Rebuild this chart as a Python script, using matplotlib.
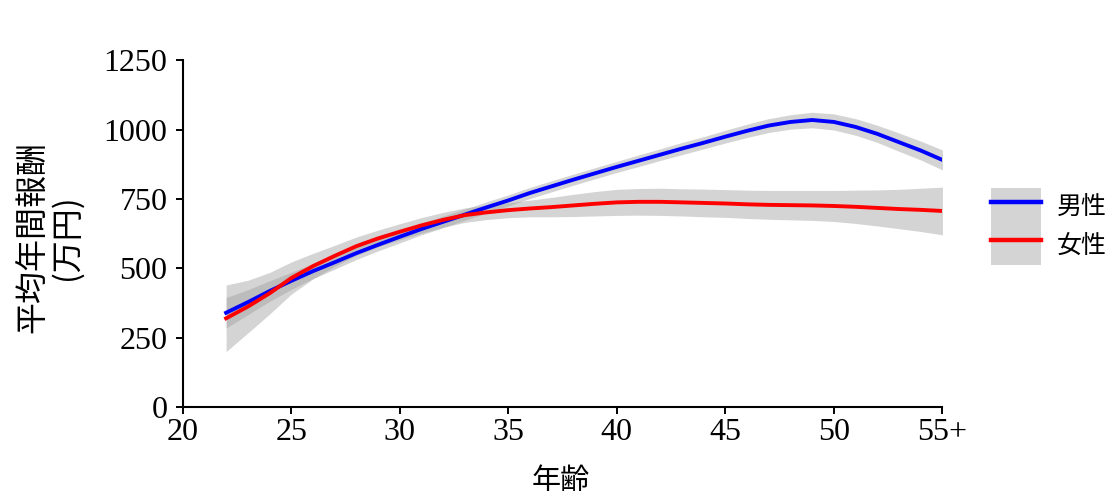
#!/usr/bin/env python3

import matplotlib
matplotlib.use("Agg")
import matplotlib.pyplot as plt
from matplotlib.lines import Line2D
from matplotlib.patches import Patch
from matplotlib.legend_handler import HandlerTuple

# ages
ages = [22, 23, 24, 25, 26, 27, 28, 29, 30, 31, 32, 33, 34, 35, 36, 37, 38,
        39, 40, 41, 42, 43, 44, 45, 46, 47, 48, 49, 50, 51, 52, 53, 54, 55]

male = [340, 378, 418, 455, 490, 522, 555, 585, 614, 642, 668, 694, 720, 745,
        772, 796, 820, 843, 866, 888, 910, 932, 953, 975, 996, 1015, 1028,
        1035, 1028, 1010, 985, 955, 925, 891]
male_se = [55, 45, 37, 31, 27, 25, 23, 22, 22, 21, 21, 20, 20, 20, 20, 20, 20,
           20, 20, 21, 21, 22, 22, 23, 24, 25, 26, 28, 29, 30, 31, 33, 34, 36]

female = [320, 362, 410, 465, 508, 545, 580, 608, 632, 655, 675, 692, 702, 710,
          716, 721, 727, 733, 738, 740, 740, 738, 736, 734, 731, 729, 728, 727,
          725, 722, 718, 714, 711, 707]
female_se = [120, 95, 75, 58, 46, 38, 33, 30, 29, 28, 27, 26, 26, 27, 30, 35,
             40, 44, 47, 48, 49, 49, 50, 50, 51, 52, 53, 54, 56, 60, 65, 71,
             78, 86]

x_ticks = [20, 25, 30, 35, 40, 45, 50, 55]
x_tick_labels = ["20", "25", "30", "35", "40", "45", "50", "55+"]
y_ticks = [0, 250, 500, 750, 1000, 1250]

series_labels = ["男性", "女性"]
series_colors = ["#0000ff", "#ff0000"]

CJK = ["Noto Sans CJK JP", "DejaVu Sans"]
SERIF = "Liberation Serif"
BAND = "#a0a0a0"

fig = plt.figure(figsize=(11.14, 4.97), dpi=100)
ax = fig.add_axes([0.164, 0.181, 0.682, 0.6975])

for mean, se in [(male, male_se), (female, female_se)]:
    lo = [m - s for m, s in zip(mean, se)]
    hi = [m + s for m, s in zip(mean, se)]
    ax.fill_between(ages, lo, hi, color=BAND, alpha=0.45, linewidth=0)

ax.plot(ages, male, color=series_colors[0], linewidth=2.8)
ax.plot(ages, female, color=series_colors[1], linewidth=2.8)

ax.set_xlim(20, 55)
ax.set_ylim(0, 1250)
ax.set_xticks(x_ticks)
ax.set_xticklabels(x_tick_labels)
ax.set_yticks(y_ticks)

for side in ["top", "right"]:
    ax.spines[side].set_visible(False)
for side in ["left", "bottom"]:
    ax.spines[side].set_linewidth(1.5)
    ax.spines[side].set_color("black")

ax.tick_params(direction="out", length=5, width=1.4, colors="black")
ax.tick_params(axis="y", pad=6)
ax.tick_params(axis="x", pad=3)
for lab in ax.get_xticklabels() + ax.get_yticklabels():
    lab.set_fontfamily(SERIF)
    lab.set_fontsize(23)

fig.text(50 / 1114, 1 - 237 / 497, "平均年間報酬\n(万円)", rotation=90,
         ha="center", va="center", multialignment="center",
         family=CJK, fontsize=23, linespacing=1.0)
fig.text(561 / 1114, 1 - 481 / 497, "年齢", ha="center", va="center",
         family=CJK, fontsize=21)

handles = []
for color in series_colors:
    handles.append((Patch(facecolor="#d4d4d4", edgecolor="none"),
                    Line2D([0], [0], color=color, linewidth=3.2)))

ax.legend(handles, series_labels, handler_map={tuple: HandlerTuple(ndivide=1)},
          loc="upper left", bbox_to_anchor=(991 / 1114, 1 - 188 / 497),
          bbox_transform=fig.transFigure, frameon=False, borderpad=0,
          borderaxespad=0, handlelength=2.0, handleheight=2.0,
          labelspacing=0.0, handletextpad=0.65,
          prop={"family": CJK, "size": 18})

fig.savefig("out.png", dpi=100)
